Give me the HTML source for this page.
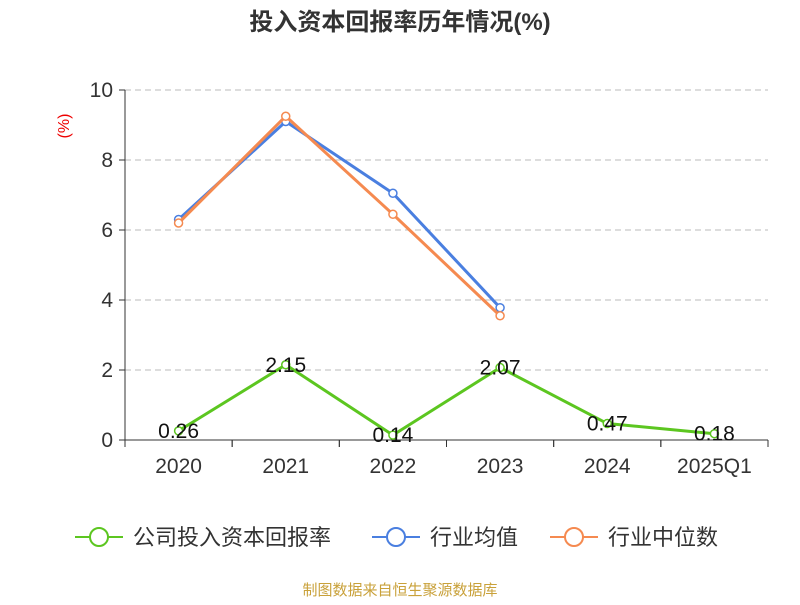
<!DOCTYPE html>
<html><head><meta charset="utf-8"><style>
body{margin:0;background:#fff;}
svg text{font-family:"Liberation Sans","Noto Sans CJK SC",sans-serif;}
</style></head><body>
<svg id="c" width="800" height="600" xmlns="http://www.w3.org/2000/svg">
<text x="400" y="30" text-anchor="middle" font-size="24" font-weight="bold" fill="#333">投入资本回报率历年情况(%)</text>
<text x="69" y="126" font-size="16" fill="#e00" transform="rotate(-90 69 126)" text-anchor="middle">(%)</text>
<g id="grid"></g><g id="axes"></g><g id="series"></g>
<g id="legend"></g>
<text x="400" y="595" text-anchor="middle" font-size="15" fill="#c9a13a">制图数据来自恒生聚源数据库</text>
</svg>
<script>
const categories=["2020","2021","2022","2023","2024","2025Q1"];
const company=[0.26,2.15,0.14,2.07,0.47,0.18];
const industryAvg=[6.3,9.1,7.05,3.78,null,null];
const industryMedian=[6.2,9.25,6.45,3.55,null,null];
const yTicks=[0,2,4,6,8,10];
const ns="http://www.w3.org/2000/svg";
const L=125,R=768,T=90,B=440,yMax=10;
const bw=(R-L)/categories.length;
const x=i=>L+bw*(i+0.5);
const y=v=>B-(v/yMax)*(B-T);
function mk(tag,attrs,parent,text){const e=document.createElementNS(ns,tag);for(const k in attrs)e.setAttribute(k,attrs[k]);if(text!=null)e.textContent=text;document.getElementById(parent).appendChild(e);return e;}
yTicks.forEach(t=>{
  if(t>0){const g=mk('line',{x1:L,x2:R,y1:y(t),y2:y(t),stroke:'#bbb','stroke-dasharray':'6,4'},'grid');
  
  }
  const tk=mk('line',{x1:L-6,x2:L,y1:y(t),y2:y(t),stroke:'#333'},'axes');
  
  
  const tl=mk('text',{x:L-12,y:y(t)+7,'text-anchor':'end','font-size':21,fill:'#333'},'axes',t);
  
  
});
const ya=mk('line',{x1:L,x2:L,y1:T,y2:B,stroke:'#333'},'axes');


const xa=mk('line',{x1:L,x2:R,y1:B,y2:B,stroke:'#333'},'axes');


categories.forEach((c,i)=>{
  for(const xx of [L+bw*i,L+bw*(i+1)]){const tk=mk('line',{x1:xx,x2:xx,y1:B,y2:B+7,stroke:'#333'},'axes');
  
  }
  const tl=mk('text',{x:x(i),y:B+33,'text-anchor':'middle','font-size':21,fill:'#333'},'axes',c);
  
  
});
function series(data,color,name,labels){
  const pts=data.map((v,i)=>v==null?null:[x(i),y(v)]).filter(p=>p);
  const p=mk('polyline',{points:pts.map(p=>p.join(',')).join(' '),fill:'none',stroke:color,'stroke-width':3},'series');
  
  
  data.forEach((v,i)=>{if(v==null)return;
    const c=mk('circle',{cx:x(i),cy:y(v),r:4,fill:'#fff',stroke:color,'stroke-width':1.5},'series');
    
    
    if(labels){const t=mk('text',{x:x(i),y:y(v)+7,'text-anchor':'middle','font-size':21,fill:'#111'},'series',v.toFixed(2));
    
    }
  });
}
series(industryAvg,'#4a7fe0','industry-avg',false);
series(industryMedian,'#f58a50','industry-median',false);
series(company,'#5cc620','company',true);
const leg=[["公司投入资本回报率","#5cc620",75],["行业均值","#4a7fe0",372],["行业中位数","#f58a50",550]];
leg.forEach(([n,c,lx])=>{
  const g=mk('g',{},'legend');
  
  
  const ln=document.createElementNS(ns,'line');ln.setAttribute('x1',lx);ln.setAttribute('x2',lx+48);ln.setAttribute('y1',537);ln.setAttribute('y2',537);ln.setAttribute('stroke',c);ln.setAttribute('stroke-width',2);g.appendChild(ln);
  const ci=document.createElementNS(ns,'circle');ci.setAttribute('cx',lx+24);ci.setAttribute('cy',537);ci.setAttribute('r',9);ci.setAttribute('fill','#fff');ci.setAttribute('stroke',c);ci.setAttribute('stroke-width',2);g.appendChild(ci);
  const t=document.createElementNS(ns,'text');t.setAttribute('x',lx+58);t.setAttribute('y',545);t.setAttribute('font-size',22);t.setAttribute('fill','#333');t.textContent=n;g.appendChild(t);
});
</script>
</body></html>
